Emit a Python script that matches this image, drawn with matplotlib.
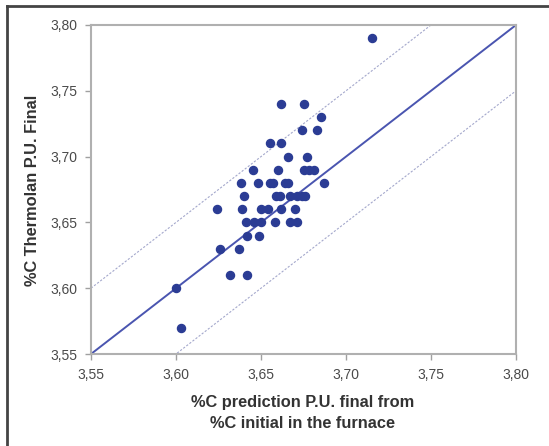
import numpy as np
import matplotlib
matplotlib.use("Agg")
import matplotlib.pyplot as plt
from matplotlib.ticker import FuncFormatter

plt.rcParams['font.family'] = ['Liberation Sans', 'DejaVu Sans']

x_pred = [3.715,
          3.662, 3.675,
          3.685,
          3.674, 3.683,
          3.655, 3.662,
          3.666, 3.677,
          3.645, 3.660, 3.675, 3.678, 3.681,
          3.638, 3.648, 3.655, 3.657, 3.664, 3.666, 3.687,
          3.640, 3.659, 3.661, 3.667, 3.671, 3.674, 3.676,
          3.624, 3.639, 3.650, 3.654, 3.662, 3.670,
          3.641, 3.646, 3.650, 3.658, 3.667, 3.671,
          3.642, 3.649,
          3.626, 3.637,
          3.632, 3.642,
          3.600,
          3.603]
y_final = [3.79,
           3.74, 3.74,
           3.73,
           3.72, 3.72,
           3.71, 3.71,
           3.70, 3.70,
           3.69, 3.69, 3.69, 3.69, 3.69,
           3.68, 3.68, 3.68, 3.68, 3.68, 3.68, 3.68,
           3.67, 3.67, 3.67, 3.67, 3.67, 3.67, 3.67,
           3.66, 3.66, 3.66, 3.66, 3.66, 3.66,
           3.65, 3.65, 3.65, 3.65, 3.65, 3.65,
           3.64, 3.64,
           3.63, 3.63,
           3.61, 3.61,
           3.60,
           3.57]

ideal = [3.55, 3.80]
band = 0.05
ticks = [3.55, 3.60, 3.65, 3.70, 3.75, 3.80]

fig = plt.figure(figsize=(5.49, 4.46), dpi=100)
ax = fig.add_axes([91/549, 1-354/446, 425/549, 329/446])

blue = '#2b3c94'
ax.plot(ideal, ideal, color='#4a55b0', lw=1.4, zorder=2)
ax.plot(ideal, [v + band for v in ideal], color='#a4a8cc', lw=0.8,
        ls=(0, (2, 1.5)), zorder=1)
ax.plot(ideal, [v - band for v in ideal], color='#a4a8cc', lw=0.8,
        ls=(0, (2, 1.5)), zorder=1)
ax.plot(x_pred, y_final, 'o', color=blue, ms=5.8, mec=blue, zorder=3)

ax.set_xlim(3.55, 3.80)
ax.set_ylim(3.55, 3.80)
ax.set_xticks(ticks)
ax.set_yticks(ticks)
fmt = FuncFormatter(lambda v, p: f"{v:.2f}".replace('.', ','))
ax.xaxis.set_major_formatter(fmt)
ax.yaxis.set_major_formatter(fmt)
ax.tick_params(direction='out', length=4, width=1, color='#a0a0a0',
               labelsize=10, labelcolor='#4a4a4a', pad=6)
for s in ax.spines.values():
    s.set_color('#b0b0b0')
    s.set_linewidth(1.5)

fig.text(303/549, 1-402/446, '%C prediction P.U. final from',
         ha='center', va='center', fontsize=11.8, fontweight='bold', color='#333333')
fig.text(303/549, 1-423/446, '%C initial in the furnace',
         ha='center', va='center', fontsize=11.8, fontweight='bold', color='#333333')
fig.text(33/549, 1-190/446, '%C Thermolan P.U. Final', rotation=90,
         ha='center', va='center', fontsize=11.8, fontweight='bold', color='#333333')

# outer frame (left and top only)
fig.add_artist(plt.Line2D([7/549, 7/549], [0, 1-6/446], transform=fig.transFigure,
                          color='#444444', lw=2))
fig.add_artist(plt.Line2D([7/549, 1], [1-6/446, 1-6/446], transform=fig.transFigure,
                          color='#444444', lw=2))

fig.savefig('out.png', dpi=100)
